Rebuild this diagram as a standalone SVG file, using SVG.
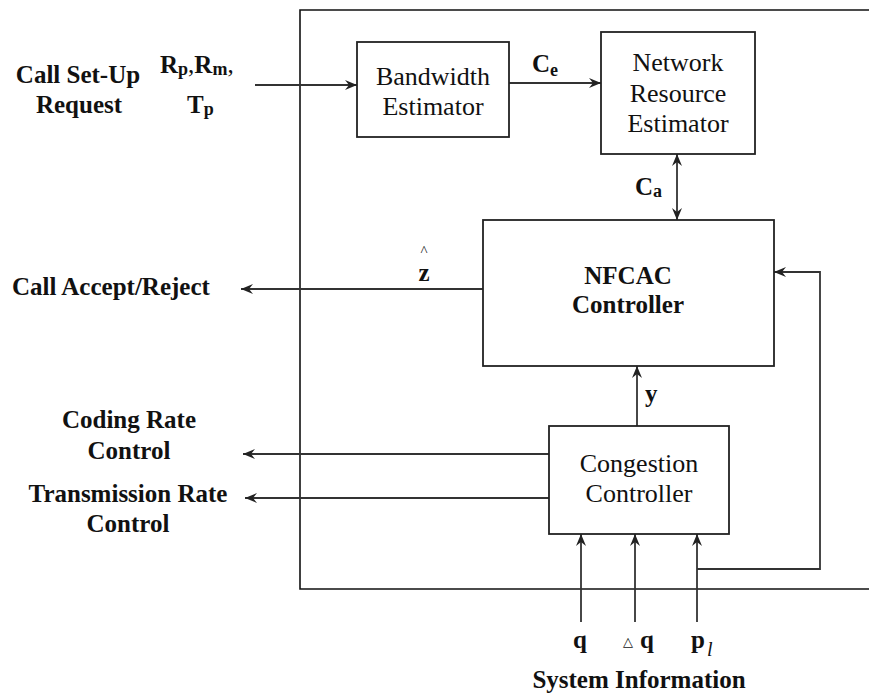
<svg xmlns="http://www.w3.org/2000/svg" width="869" height="696" viewBox="0 0 869 696">
<defs>
<marker id="ah" markerUnits="userSpaceOnUse" markerWidth="14" markerHeight="12" viewBox="0 0 14 12" refX="13" refY="6" orient="auto-start-reverse">
<path d="M1,1 L13,6 L1,11 L5,6 z" fill="#222"/>
</marker>
</defs>
<style>
.box{fill:#fff;stroke:#222;stroke-width:1.8}
.ln{fill:none;stroke:#333;stroke-width:1.8}
.frame{fill:none;stroke:#111;stroke-width:1.6}
text{font-family:'Liberation Serif','Times New Roman',Times,Tinos,'Noto Serif','DejaVu Serif',FreeSerif,serif}
.t{font-size:26px;fill:#111;text-anchor:middle}
.b{font-size:25px;font-weight:bold;fill:#111}
.c{text-anchor:middle}
.s{font-size:18px}
</style>
<rect width="869" height="696" fill="#fff"/>
<path class="frame" d="M869,10 H300 V589 H869"/>
<g id="connectors">
<path class="ln" d="M255,85 H357" marker-end="url(#ah)"/>
<path class="ln" d="M509,83 H601" marker-end="url(#ah)"/>
<path class="ln" d="M677,154 V220" marker-start="url(#ah)" marker-end="url(#ah)"/>
<path class="ln" d="M483,289 H241" marker-end="url(#ah)"/>
<path class="ln" d="M637,426 V366" marker-end="url(#ah)"/>
<path class="ln" d="M549,454 H243" marker-end="url(#ah)"/>
<path class="ln" d="M549,498 H245" marker-end="url(#ah)"/>
<path class="ln" d="M581,622 V534" marker-end="url(#ah)"/>
<path class="ln" d="M635,622 V534" marker-end="url(#ah)"/>
<path class="ln" d="M697,622 V534" marker-end="url(#ah)"/>
<path class="ln" d="M697,569 H820 V272 H774" marker-end="url(#ah)"/>
</g>
<g id="bandwidth">
<rect class="box" x="357" y="42" width="152" height="95"/>
<text class="t" x="433" y="85">Bandwidth</text>
<text class="t" x="433" y="115">Estimator</text>
</g>
<g id="network">
<rect class="box" x="601" y="32" width="154" height="122"/>
<text class="t" x="678" y="71">Network</text>
<text class="t" x="678" y="102">Resource</text>
<text class="t" x="678" y="132">Estimator</text>
</g>
<g id="nfcac">
<rect class="box" x="483" y="220" width="291" height="146"/>
<text class="b c" x="628" y="284">NFCAC</text>
<text class="b c" x="628" y="313">Controller</text>
</g>
<g id="congestion">
<rect class="box" x="549" y="426" width="180" height="108"/>
<text class="t" x="639" y="472">Congestion</text>
<text class="t" x="639" y="502">Controller</text>
</g>
<g id="labels">
<text class="b c" x="78" y="83">Call Set-Up</text>
<text class="b c" x="79" y="113">Request</text>
<text class="b" x="160" y="73">R<tspan class="s" dy="2">p</tspan><tspan dy="-2" font-weight="normal">,</tspan>R<tspan class="s" dy="2">m</tspan><tspan dy="-2" font-weight="normal">,</tspan></text>
<text class="b" x="187" y="113">T<tspan class="s" dy="2">p</tspan></text>
<text class="b" x="532" y="72">C<tspan class="s" dy="4">e</tspan></text>
<text class="b" x="635" y="195">C<tspan class="s" dy="2">a</tspan></text>
<text class="b c" x="424" y="281">z</text>
<text x="424" y="256" text-anchor="middle" font-size="15" fill="#111">^</text>
<text class="b" x="12" y="295">Call Accept/Reject</text>
<text class="b" x="645" y="402">y</text>
<text class="b c" x="129" y="428">Coding Rate</text>
<text class="b c" x="129" y="459">Control</text>
<text class="b c" x="128" y="502">Transmission Rate</text>
<text class="b c" x="128" y="532">Control</text>
<text class="b c" x="580" y="648">q</text>
<text x="628" y="646" text-anchor="middle" style="font-family:'DejaVu Sans',sans-serif" font-size="13" fill="#111">△</text>
<text class="b c" x="647" y="648">q</text>
<text class="b c" x="698" y="648">p</text>
<text x="707" y="656" font-style="italic" font-size="20" fill="#111">l</text>
<text class="b c" x="639" y="688">System Information</text>
</g>
</svg>
